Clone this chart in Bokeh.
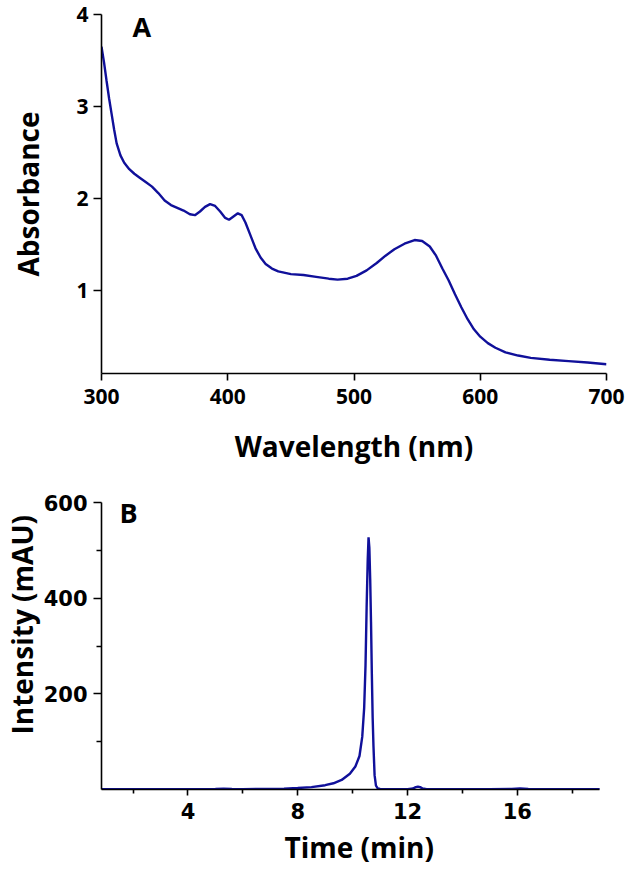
from bokeh.plotting import figure
from bokeh.layouts import column
from bokeh.models import FixedTicker, Range1d, Label, Title
from bokeh.embed import file_html
from bokeh.resources import INLINE

# ---------------- data ----------------
wavelength_nm = [300, 302, 304, 306, 308, 310, 312, 315, 318, 322, 326, 330, 335, 340, 345,
                 350, 355, 360, 365, 370, 374, 378, 382, 386, 390, 394, 398, 401, 404, 408,
                 411, 414, 418, 422, 426, 430, 435, 440, 450, 460, 470, 480, 487, 495, 502,
                 510, 518, 525, 532, 540, 548, 554, 560, 565, 570, 575, 580, 585, 590, 595,
                 600, 606, 612, 620, 630, 640, 655, 670, 685, 700]
absorbance = [3.65, 3.48, 3.28, 3.09, 2.92, 2.75, 2.60, 2.47, 2.39, 2.32, 2.27, 2.23, 2.18, 2.13, 2.06,
              1.98, 1.93, 1.90, 1.87, 1.83, 1.82, 1.86, 1.91, 1.94, 1.92, 1.86, 1.79, 1.77, 1.80, 1.84,
              1.82, 1.74, 1.60, 1.46, 1.36, 1.29, 1.24, 1.21, 1.18, 1.17, 1.15, 1.13, 1.12, 1.13, 1.16,
              1.22, 1.30, 1.38, 1.45, 1.51, 1.55, 1.54, 1.48, 1.38, 1.24, 1.11, 0.96, 0.82, 0.69, 0.58,
              0.50, 0.43, 0.38, 0.33, 0.295, 0.27, 0.25, 0.235, 0.22, 0.20]

time_min = [0.85, 2.0, 3.0, 4.0, 5.0, 5.3, 5.6, 6.0, 7.0, 7.5, 8.0, 8.5, 9.0, 9.3, 9.6, 9.9,
            10.1, 10.25, 10.35, 10.42, 10.47, 10.51, 10.55, 10.58, 10.61, 10.64, 10.67, 10.70,
            10.73, 10.76, 10.80, 10.85, 10.92, 11.0, 11.2, 11.6, 12.0, 12.2, 12.3, 12.38, 12.46,
            12.55, 12.7, 13.0, 14.0, 15.0, 15.8, 16.1, 16.4, 16.7, 17.0, 18.0, 19.0]
intensity_mau = [0.5, 0.5, 0.6, 0.8, 1.0, 1.5, 1.0, 0.8, 1.2, 1.8, 3, 5, 9, 13, 20, 33,
                 48, 70, 110, 170, 260, 380, 480, 527, 505, 440, 350, 242,
                 150, 90, 30, 8, 2, 1, 0.6, 0.5, 0.8, 2, 5, 6, 5,
                 2, 0.8, 0.5, 0.5, 0.6, 1.0, 2.0, 1.2, 0.6, 0.5, 0.4, 0.4]

a_xticks = [300, 400, 500, 600, 700]
a_yticks = [1, 2, 3, 4]
b_xticks = [4, 8, 12, 16]
b_xminor = [2, 6, 10, 14, 18]
b_yticks = [200, 400, 600]
b_yminor = [100, 300, 500]

LINE = "#10109a"
FONT = "Open Sans"


def style(p, tick_font, label_size, axis_size="28px"):
    p.grid.visible = False
    p.outline_line_color = None
    p.background_fill_color = "white"
    p.border_fill_color = "white"
    for ax in (p.xaxis[0], p.yaxis[0]):
        ax.axis_line_width = 1.6
        ax.axis_line_color = "black"
        ax.major_tick_line_width = 1.6
        ax.minor_tick_line_width = 1.6
        ax.major_tick_line_color = "black"
        ax.minor_tick_line_color = "black"
        ax.major_tick_in = 0
        ax.minor_tick_in = 0
        ax.major_label_text_font = tick_font
        ax.major_label_text_font_style = "bold"
        ax.major_label_text_font_size = label_size
        ax.major_label_text_color = "black"
        ax.axis_label_text_font = FONT
        ax.axis_label_text_font_style = "bold"
        ax.axis_label_text_font_size = axis_size
        ax.axis_label_text_color = "black"


def panel_letter(p, x, y, s):
    p.add_layout(Label(x=x, y=y, text=s, text_font=FONT, text_font_style="bold",
                       text_font_size="27px", text_color="black",
                       text_align="center", text_baseline="middle"))


# ---------------- panel A ----------------
pA = figure(width=627, height=478, output_backend="svg", toolbar_location=None,
            x_range=Range1d(300, 700), y_range=Range1d(0.1, 4.0),
            min_border_left=101, min_border_right=21, min_border_top=14, min_border_bottom=105)
style(pA, FONT, "21px")
pA.line(wavelength_nm, absorbance, line_color=LINE, line_width=2.4)
pA.xaxis.ticker = FixedTicker(ticks=a_xticks, minor_ticks=[])
pA.yaxis.ticker = FixedTicker(ticks=a_yticks, minor_ticks=[])
pA.xaxis.major_tick_out = 7
pA.yaxis.major_tick_out = 8
pA.xaxis.major_label_standoff = 8
pA.yaxis.major_label_standoff = 5
pA.xaxis.axis_label = "Wavelength (nm)"
pA.yaxis.axis_label = "Absorbance"
pA.xaxis.axis_label_standoff = 20
pA.yaxis.axis_label_standoff = 26
panel_letter(pA, 332, 3.874, "A")

# ---------------- panel B ----------------
pB = figure(width=627, height=392, output_backend="svg", toolbar_location=None,
            x_range=Range1d(0.85, 19.25), y_range=Range1d(0, 600),
            min_border_left=101, min_border_right=21, min_border_top=24, min_border_bottom=81)
style(pB, "DejaVu Sans", "21px")
pB.line(time_min, intensity_mau, line_color=LINE, line_width=2.4)
pB.xaxis.bounds = (0.85, 19.0)
pB.xaxis.ticker = FixedTicker(ticks=b_xticks, minor_ticks=b_xminor)
pB.yaxis.ticker = FixedTicker(ticks=b_yticks, minor_ticks=b_yminor)
pB.xaxis.major_tick_out = 6
pB.xaxis.minor_tick_out = 4
pB.yaxis.major_tick_out = 8
pB.yaxis.minor_tick_out = 5
pB.xaxis.major_label_standoff = 7
pB.yaxis.major_label_standoff = 6
pB.add_layout(Title(text="Intensity (mAU)", align="left", offset=55, standoff=0,
                    text_font=FONT, text_font_style="bold", text_font_size="28px",
                    text_color="black"), "left")
pB.add_layout(Title(text="Time (min)", align="left", offset=183, standoff=8,
                    text_font=FONT, text_font_style="bold", text_font_size="28px",
                    text_color="black"), "below")
panel_letter(pB, 1.84, 580, "B")

layout = column(pA, pB)
open("out.html", "w").write(file_html(layout, INLINE))
